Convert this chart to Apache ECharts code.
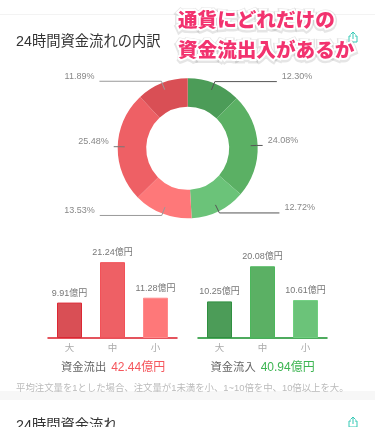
<!DOCTYPE html>
<html><head><meta charset="utf-8">
<style>html,body{margin:0;padding:0;background:#fff}#c{width:375px;height:427px}</style>
<script src="https://cdn.jsdelivr.net/npm/echarts@6/dist/echarts.min.js"></script>
</head><body><div id="c"></div>
<script>
const shareValues = [12.30, 24.08, 12.72, 13.53, 25.48, 11.89];
const shareColors = ['#4c9c58', '#5bb064', '#6bc379', '#fe7879', '#ee6065', '#d94f55'];
const sizeLabels = ['大', '中', '小'];
const outflowValues = [9.91, 21.24, 11.28];
const inflowValues = [10.25, 20.08, 10.61];
const redBars = ['#d94f55', '#ee6065', '#fe7879'];
const greenBars = ['#4c9c58', '#5bb064', '#6bc379'];
const redEdges = ['#dc2733', '#f25158', '#ff8a8b'];
const greenEdges = ['#2f8f40', '#4cb75c', '#6fd07f'];
const font = '"Liberation Sans","Noto Sans CJK JP",sans-serif';

const lineLens = [[9, 62], [6, 6], [9, 60], [9, 62], [6, 5], [9, 62]];
const lineCols = ['#555', '#555', '#555', '#999', '#777', '#999'];

function barGrid(i, left) { return { left, width: 129, top: 238, height: 100 }; }
function barAxes(i, color) {
  return {
    x: { type: 'category', gridIndex: i, data: sizeLabels,
      axisLine: { lineStyle: { color, width: 1.5 } }, axisTick: { show: false },
      axisLabel: { color: '#aaa', fontSize: 9.5, margin: 6, fontFamily: font } },
    y: { type: 'value', gridIndex: i, min: 0, max: 28, show: false, splitLine: { show: false } }
  };
}
const a0 = barAxes(0, '#dc1c28'), a1 = barAxes(1, '#15902a');
function barSeries(i, values, fills, edges) {
  return { type: 'bar', xAxisIndex: i, yAxisIndex: i, barWidth: 25,
    data: values.map((v, k) => ({ value: v, itemStyle: { color: fills[k], borderColor: edges[k], borderWidth: 1 } })),
    label: { show: true, position: 'top', distance: 5, color: '#777', fontSize: 9, fontFamily: font,
      formatter: p => p.value.toFixed(2) + '億円' } };
}
function shareIcon(x, y) {
  const st = { stroke: '#35c9b5', lineWidth: 1, fill: 'none' };
  return { type: 'group', x, y, silent: true, children: [
    { type: 'polyline', shape: { points: [[-2, -1], [-4, -1], [-4, 5], [4, 5], [4, -1], [2, -1]] }, style: st },
    { type: 'line', shape: { x1: 0, y1: -5, x2: 0, y2: 2 }, style: st },
    { type: 'polyline', shape: { points: [[-2.5, -2.5], [0, -5], [2.5, -2.5]] }, style: st }
  ] };
}
const calloutFont = { fontSize: 19.6, fontWeight: 900, fontFamily: '"Noto Sans CJK JP",sans-serif' };
function callout(text, y) {
  return [
    { type: 'text', silent: true, z: 9, x: 178, y: y + 1, style: Object.assign({ text, fill: 'rgba(0,0,0,0.1)', stroke: 'rgba(0,0,0,0.1)', lineWidth: 7 }, calloutFont) },
    { type: 'text', silent: true, z: 10, x: 178, y, style: Object.assign({ text, fill: '#fff', stroke: '#fff', lineWidth: 4 }, calloutFont) },
    { type: 'text', silent: true, z: 11, x: 178, y, style: Object.assign({ text, fill: '#f2336f' }, calloutFont) }
  ];
}
const chart = echarts.init(document.getElementById('c'));
chart.setOption({
  animation: false,
  backgroundColor: '#fff',
  title: [
    { text: '24時間資金流れの内訳', left: 16, top: 35, padding: 0, textStyle: { fontSize: 14.3, fontWeight: 'normal', color: '#333', fontFamily: font } },
    { text: '{a|資金流出} {b|42.44億円}', left: 61, top: 359, padding: 0, textStyle: { fontWeight: 'normal', rich: {
      a: { fontSize: 11.3, color: '#666', fontFamily: font }, b: { fontSize: 12, color: '#f5565c', fontFamily: font } } } },
    { text: '{a|資金流入} {b|40.94億円}', left: 210.5, top: 359, padding: 0, textStyle: { fontWeight: 'normal', rich: {
      a: { fontSize: 11.3, color: '#666', fontFamily: font }, b: { fontSize: 12, color: '#3db552', fontFamily: font } } } },
    { text: '平均注文量を1とした場合、注文量が1未満を小、1~10倍を中、10倍以上を大。', left: 16, top: 384, padding: 0, textStyle: { fontSize: 9.4, fontWeight: 'normal', color: '#bbb', fontFamily: font } },
    { text: '24時間資金流れ', left: 16, top: 419, padding: 0, textStyle: { fontSize: 14.3, fontWeight: 'normal', color: '#333', fontFamily: font } }
  ],
  grid: [barGrid(0, 48), barGrid(1, 198)],
  xAxis: [a0.x, a1.x],
  yAxis: [a0.y, a1.y],
  series: [
    { type: 'pie', radius: [41.5, 70], center: [187.7, 148.3], startAngle: 90, silent: true,
      label: { show: false }, labelLine: { show: false },
      data: shareValues.map((v, k) => ({ value: v, itemStyle: { color: shareColors[k] } })) },
    { type: 'pie', radius: [0, 63], center: [187.7, 148.3], startAngle: 90, silent: true, z: 5, avoidLabelOverlap: false,
      itemStyle: { color: 'rgba(0,0,0,0)' },
      labelLayout: { dy: -5 },
      label: { show: true, color: '#888', fontSize: 9, fontFamily: font, formatter: p => p.value.toFixed(2) + '%' },
      data: shareValues.map((v, k) => ({ value: v,
        labelLine: { show: true, length: lineLens[k][0], length2: lineLens[k][1], smooth: false, lineStyle: { color: lineCols[k], width: 1 } } })) },
    barSeries(0, outflowValues, redBars, redEdges),
    barSeries(1, inflowValues, greenBars, greenEdges)
  ],
  graphic: [
    { type: 'line', silent: true, shape: { x1: 0, y1: 14.5, x2: 375, y2: 14.5 }, style: { stroke: '#f3f3f3', lineWidth: 1 } },
    { type: 'rect', silent: true, shape: { x: 0, y: 391, width: 375, height: 9 }, style: { fill: '#f7f7f7' } },
    shareIcon(353, 37),
    shareIcon(353, 422),
    ...callout('通貨にどれだけの', 10),
    ...callout('資金流出入があるか', 40)
  ]
});
</script></body></html>
